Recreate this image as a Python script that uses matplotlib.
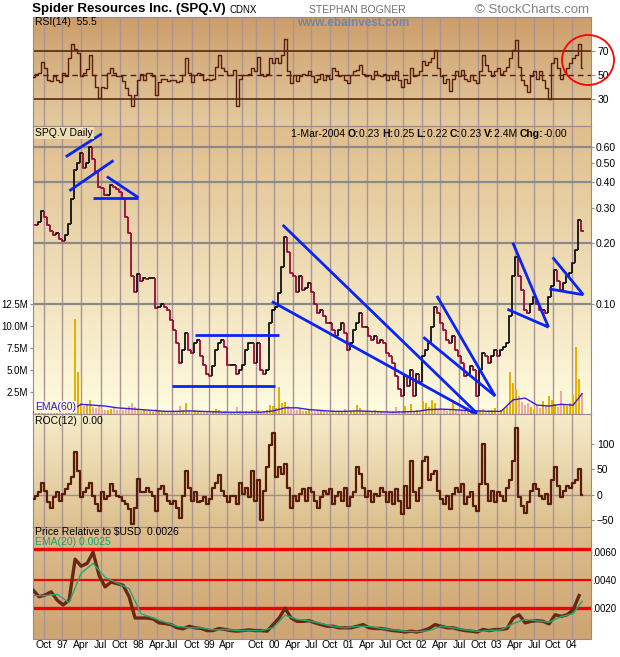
import numpy as np
import matplotlib
matplotlib.use('Agg')
import matplotlib.pyplot as plt
from matplotlib.collections import LineCollection
from matplotlib.patches import Ellipse
import matplotlib.colors as mcolors

plt.rcParams['font.family'] = ['Liberation Sans', 'DejaVu Sans']

W, H = 620, 657

# one sample about every two weeks, Aug-1996 .. 1-Mar-2004
close = [0.25, 0.245, 0.255, 0.29, 0.27, 0.245, 0.23, 0.22, 0.225, 0.21,
         0.205, 0.22, 0.25, 0.33, 0.46, 0.50, 0.56, 0.47, 0.50, 0.60,
         0.52, 0.45, 0.38, 0.375, 0.345, 0.345, 0.39, 0.38, 0.37, 0.36,
         0.33, 0.27, 0.225, 0.137, 0.115, 0.14, 0.13, 0.135, 0.133, 0.135,
         0.135, 0.095, 0.097, 0.10, 0.097, 0.093, 0.083, 0.074, 0.064, 0.051,
         0.059, 0.072, 0.059, 0.057, 0.064, 0.066, 0.055, 0.05, 0.045, 0.044,
         0.049, 0.059, 0.064, 0.066, 0.061, 0.05, 0.05, 0.05, 0.045, 0.047,
         0.05, 0.059, 0.064, 0.064, 0.051, 0.064, 0.047, 0.045, 0.047, 0.08,
         0.093, 0.097, 0.113, 0.153, 0.215, 0.18, 0.142, 0.137, 0.115, 0.137,
         0.117, 0.12, 0.127, 0.115, 0.10, 0.09, 0.093, 0.087, 0.08, 0.08,
         0.074, 0.069, 0.074, 0.08, 0.072, 0.059, 0.064, 0.074, 0.08, 0.09,
         0.077, 0.077, 0.069, 0.066, 0.069, 0.064, 0.066, 0.064, 0.057, 0.055,
         0.051, 0.044, 0.038, 0.035, 0.044, 0.039, 0.047, 0.035, 0.045, 0.041,
         0.055, 0.059, 0.064, 0.077, 0.097, 0.09, 0.08, 0.074, 0.066, 0.064,
         0.069, 0.059, 0.055, 0.051, 0.044, 0.045, 0.049, 0.047, 0.035, 0.047,
         0.057, 0.055, 0.051, 0.055, 0.059, 0.055, 0.059, 0.061, 0.064, 0.087,
         0.137, 0.17, 0.137, 0.117, 0.093, 0.09, 0.10, 0.108, 0.10, 0.093,
         0.093, 0.09, 0.108, 0.122, 0.147, 0.13, 0.117, 0.127, 0.137, 0.142,
         0.16, 0.185, 0.26, 0.23]

rsi = [48.6, 51, 52, 61, 55.5, 46, 45, 49, 46, 44,
       52, 49.5, 64, 76, 72, 68, 49, 52, 55, 67,
       50, 40, 31, 40, 39, 52, 56, 52, 49, 49,
       45, 39, 33, 24, 33, 46, 51, 46, 52, 52,
       49, 33, 44, 47, 47, 45, 46, 46, 44, 45,
       50, 64, 52, 44, 50, 52, 51, 46, 47, 46,
       47, 57, 67, 56, 53, 50, 50, 54, 24, 47,
       50, 50, 51, 56, 53, 65, 51, 49, 51, 64,
       60, 64, 60, 67, 80, 53, 43, 50, 45, 49,
       51, 50, 53, 49, 44, 47, 51, 46, 49, 47,
       56, 53, 49, 50, 46, 43, 50, 53, 54, 58,
       51, 49, 50, 47, 53, 50, 49, 51, 46, 50,
       47, 53, 46, 40, 47, 43, 56, 49, 50, 53,
       62, 58, 61, 64, 71, 56, 49, 43, 47, 37,
       47, 53, 49, 54, 47, 45, 50, 46, 43, 53,
       67, 58, 53, 49, 53, 56, 51, 53, 57, 64,
       71, 79, 57, 46, 42, 36, 49, 53, 47, 53,
       46, 39, 30, 60, 64, 56, 47, 51, 56, 60,
       64, 67, 76, 55.5]

roc = [-9, -2, 5, 24, 8, -15, -25, -5, 5, -12,
       1, 11, 21, 34, 84, 47, -5, 5, 14, 24,
       -2, -18, -32, 5, -9, -2, 21, 8, -2, -5,
       -12, -18, -28, -58, -25, 31, 5, 5, 14, 5,
       -2, -32, 11, 18, 1, -12, -18, -12, -25, -45,
       -2, 47, 14, -12, 5, -15, -12, -5, -18, -9,
       14, 24, 38, 8, -2, -15, -2, -2, -18, 24,
       1, 14, -5, 47, -12, 28, -50, 8, 54, 97,
       120, 34, 54, 41, 61, 14, -25, -2, -12, 1,
       11, -12, 14, 5, -12, -25, -5, 8, 1, 11,
       -18, -2, 5, -12, 14, -22, -5, 5, 54, 41,
       14, -5, 8, -15, 1, -2, 14, 5, -15, 5,
       -18, 11, -12, -38, 18, -25, 67, 5, -12, 14,
       67, 74, 28, 41, 47, 8, -9, -18, -2, -28,
       1, 14, 5, 21, -18, -5, 5, -22, -32, 21,
       100, 21, -12, 8, -15, 5, -2, -12, 14, 28,
       67, 130, -5, -22, -35, -15, 8, 21, 11, -2,
       -9, 1, -18, 28, 54, 18, -5, 8, 18, 14,
       24, 28, 51, 0]

volume = [0.3, 0.2, 0.4, 0.5, 0.3, 0.2, 0.3, 0.2, 0.4, 0.3,
          0.2, 0.3, 0.6, 1.4, 10.7, 4.7, 1.2, 0.9, 1.1, 1.6,
          0.8, 0.7, 0.9, 0.6, 0.5, 0.4, 0.6, 0.7, 0.5, 0.4,
          0.5, 0.6, 0.9, 1.3, 0.8, 0.5, 0.3, 0.4, 0.3, 0.3,
          0.2, 0.6, 0.4, 0.3, 0.2, 0.3, 0.3, 0.2, 0.3, 0.9,
          0.4, 1.2, 0.4, 0.3, 0.4, 0.3, 0.2, 0.3, 0.2, 0.3,
          0.3, 0.6, 0.4, 0.2, 0.3, 0.1, 0.1, 0.2, 0.8, 0.3,
          0.2, 0.3, 0.2, 0.4, 0.3, 0.5, 0.2, 0.3, 0.4, 1.0,
          0.9, 0.7, 3.1, 1.2, 1.4, 0.9, 0.6, 0.5, 0.4, 0.6,
          0.3, 0.3, 0.5, 0.2, 0.3, 0.3, 0.4, 0.3, 0.2, 0.3,
          0.5, 0.3, 0.2, 0.3, 0.6, 0.2, 0.3, 0.4, 1.0, 0.7,
          0.5, 0.3, 0.3, 0.2, 0.5, 0.2, 0.3, 0.2, 0.4, 0.2,
          0.3, 0.8, 0.3, 0.2, 0.9, 0.2, 1.1, 0.3, 0.5, 0.4,
          1.5, 1.2, 0.8, 1.6, 1.2, 0.6, 0.5, 0.4, 0.3, 0.6,
          1.6, 0.5, 0.3, 0.4, 0.3, 0.8, 0.3, 0.2, 0.5, 0.4,
          0.6, 0.3, 0.5, 0.4, 0.7, 0.3, 0.4, 0.6, 0.8, 4.8,
          3.5, 2.8, 2.0, 1.4, 1.0, 1.3, 0.8, 0.6, 0.9, 0.7,
          1.5, 0.9, 2.0, 1.6, 1.1, 0.8, 2.6, 1.0, 0.9, 1.3,
          2.1, 7.6, 4.0, 2.4]

# every 4th sample plus the last one
vol_ema = [0.2, 0.2, 0.2, 0.25, 1.1, 1.0, 0.9, 0.7, 0.6, 0.5,
           0.4, 0.3, 0.3, 0.35, 0.3, 0.25, 0.2, 0.2, 0.2, 0.2,
           0.35, 0.7, 0.7, 0.5, 0.4, 0.3, 0.3, 0.35, 0.3, 0.25,
           0.2, 0.25, 0.3, 0.5, 0.55, 0.5, 0.4, 0.35, 0.3, 0.3,
           1.6, 1.8, 1.0, 0.9, 1.1, 1.0, 2.3]

# every 2nd sample
pr = [.00329, .00282, .00294, .00317, .00258, .00223, .00258, .0055, .0050, .0052,
      .0060, .00434, .00352, .00387, .00375, .00364, .00282, .0013, .0013, .0013,
      .00123, .00095, .0009, .00083, .0006, .00053, .00071, .0006, .00055, .0004,
      .0004, .00055, .00048, .0004, .00036, .0004, .00045, .0004, .0004, .00036,
      .00083, .0013, .0020, .0013, .00106, .00106, .00111, .00095, .00083, .00071,
      .00071, .0006, .0006, .0006, .00071, .00083, .0006, .00055, .00055, .00048,
      .0004, .00036, .0003, .00036, .0003, .0004, .00055, .00083, .00071, .0006,
      .0006, .00048, .0004, .00036, .0003, .00048, .0004, .00048, .00048, .00055,
      .0013, .00153, .00095, .00106, .00111, .00106, .00088, .00153, .00142, .00153,
      .00188, .0029]

# every 4th sample plus the last one
pr_ema = [.0029, .0029, .0030, .0024, .0045, .0052, .0042, .0038, .0034, .0016,
          .0013, .0010, .0007, .0006, .0006, .00045, .00048, .0004, .0004, .0004,
          .0006, .0015, .0012, .0011, .0009, .0007, .0006, .0007, .0007, .00055,
          .00045, .00035, .00032, .0004, .0007, .0006, .00045, .00035, .0004, .00045,
          .0009, .0012, .0011, .0010, .0014, .0016, .0025]

tick_labels = ['Oct', '97', 'Apr', 'Jul', 'Oct', '98', 'Apr', 'Jul', 'Oct', '99',
               'Apr', '', 'Oct', '00', 'Apr', 'Jul', 'Oct', '01', 'Apr', 'Jul',
               'Oct', '02', 'Apr', 'Jul', 'Oct', '03', 'Apr', 'Jul', 'Oct', '04']
tick_pos = [3.5, 9.77, 16.1, 22.57, 29.0, 35.1, 41.23, 46.2, 52.8, 58.7,
            64.7, 69.7, 74.33, 80.43, 86.57, 92.67, 99.0, 105.1, 111.23, 117.57,
            123.43, 129.57, 135.67, 142.1, 148.43, 154.57, 160.67, 167.0, 173.23, 179.57]

# hand-drawn trendlines: (sample, price) pairs
trend_lines = [[(10.9, 0.535), (22.9, 0.696)],
               [(12.1, 0.363), (26.8, 0.513)],
               [(20.1, 0.336), (35.1, 0.336)],
               [(24.6, 0.427), (35.1, 0.336)],
               [(54.0, 0.070), (81.8, 0.070)],
               [(46.2, 0.039), (80.7, 0.039)],
               [(83.2, 0.246), (147.9, 0.0288)],
               [(79.6, 0.1027), (147.9, 0.0283)],
               [(130.1, 0.0684), (154.0, 0.035)],
               [(134.6, 0.1095), (154.0, 0.035)],
               [(159.9, 0.201), (171.8, 0.0767)],
               [(158.1, 0.0941), (171.8, 0.0767)],
               [(173.2, 0.170), (183.4, 0.111)],
               [(172.1, 0.1186), (183.4, 0.111)]]

price_grid = [0.1, 0.2, 0.4, 0.6]
pr_lines = [0.0062, 0.0040, 0.0020]

n = len(close)
idx = np.arange(n)
up = np.r_[True, np.diff(close) >= 0]

grid_c = '#AA9494'
fs = 7.5
fy = 7

fig = plt.figure(figsize=(W / 100, H / 100), dpi=100)


def px_rect(top, bottom, left=32.5, right=590.5):
    return [left / W, 1 - bottom / H, (right - left) / W, (bottom - top) / H]


def gradient(ax, c_top, c_bot):
    a = np.array(mcolors.to_rgb(c_top))
    b = np.array(mcolors.to_rgb(c_bot))
    t = np.linspace(0, 1, 200)[:, None]
    img = (a * (1 - t) + b * t)[:, None, :]
    ax.imshow(img, extent=[0, 1, 0, 1], transform=ax.transAxes,
              aspect='auto', zorder=0, interpolation='bilinear')


def base(ax):
    ax.set_xlim(-0.2, 185.8)
    ax.set_xticks(tick_pos)
    ax.set_xticklabels([])
    ax.tick_params(axis='x', length=0)
    for x in tick_pos:
        ax.axvline(x, color=grid_c, lw=1.0, zorder=1)
    for s in ax.spines.values():
        s.set_color('#9A8A86')
        s.set_linewidth(0.8)


def ftext(x, y, s, **kw):
    return fig.text(x / W, 1 - y / H, s, va='center', **kw)


# --- RSI panel
ax_r = fig.add_axes(px_rect(16.5, 126))
gradient(ax_r, '#CC9D6A', '#E4CB9F')
base(ax_r)
ax_r.plot(idx, rsi, color='#5A1E0C', lw=1.0, drawstyle='steps-mid', zorder=3)
for lv in (30, 70):
    ax_r.axhline(lv, color='#4A1E0A', lw=1.1, zorder=2)
ax_r.axhline(50, color='#4A1E0A', lw=1.0, ls=(0, (4, 3)), zorder=2)
ax_r.set_ylim(7.5, 98.75)
ax_r.yaxis.tick_right()
ax_r.set_yticks([30, 50, 70])
ax_r.tick_params(axis='y', labelsize=fy + 0.5, length=3, pad=2, color='#9A8A86')

# --- price + volume panel
ax_v = fig.add_axes(px_rect(126, 414))
gradient(ax_v, '#DFBE8C', '#FFFCE0')
base(ax_v)
vcol = np.where(up, '#E8B000', '#F5A6A0')
ax_v.bar(idx, volume, width=0.6, color=vcol, zorder=2)
ax_v.plot(np.r_[np.arange(0, n, 4), n - 1], vol_ema, color='#3A1ED8', lw=1.0, zorder=3)
ax_v.set_ylim(0, 32.6)
ax_v.set_yticks([2.5, 5.0, 7.5, 10.0, 12.5])
ax_v.set_yticklabels(['2.5M', '5.0M', '7.5M', '10.0M', '12.5M'])
ax_v.tick_params(axis='y', labelsize=fy, length=2.5, pad=0.5, color='#9A8A86')

ax_p = ax_v.twinx()
ax_p.set_zorder(ax_v.get_zorder() + 1)
ax_p.patch.set_visible(False)
ax_p.set_yscale('log')
ax_p.set_ylim(0.0285, 0.76)
ax_p.set_xlim(-0.2, 185.8)
for s in ax_p.spines.values():
    s.set_visible(False)
for lv in price_grid:
    ax_p.axhline(lv, color='#8A8A8A', lw=1.6, zorder=1)
segs, cols = [], []
for i in range(1, n):
    segs.append([(i - 0.5, close[i - 1]), (i - 0.5, close[i]), (i + 0.5, close[i])])
    cols.append('#111111' if close[i] >= close[i - 1] else '#9A0A38')
ax_p.add_collection(LineCollection(segs, colors=cols, linewidths=1.3, zorder=3))
for ln in trend_lines:
    xs, ys = zip(*ln)
    ax_p.plot(xs, ys, color='#0A24F5', lw=2.0, zorder=4, solid_capstyle='butt')
ax_p.set_yticks([0.1, 0.2, 0.3, 0.4, 0.5, 0.6])
ax_p.set_yticklabels(['0.10', '0.20', '0.30', '0.40', '0.50', '0.60'])
ax_p.yaxis.set_minor_locator(matplotlib.ticker.NullLocator())
ax_p.tick_params(axis='y', labelsize=fy + 0.5, length=2.5, pad=1, color='#9A8A86')

# --- ROC panel
ax_c = fig.add_axes(px_rect(414, 527))
gradient(ax_c, '#F6ECC9', '#DCC08E')
base(ax_c)
ax_c.axhline(0, color='#A08C8C', lw=1.0, zorder=2)
ax_c.plot(idx, roc, color='#5A1C08', lw=1.6, drawstyle='steps-mid', zorder=3)
ax_c.set_ylim(-63, 158)
ax_c.yaxis.tick_right()
ax_c.set_yticks([-50, 0, 50, 100])
ax_c.tick_params(axis='y', labelsize=fy + 0.5, length=2.5, pad=2, color='#9A8A86')

# --- price relative panel
ax_q = fig.add_axes(px_rect(527, 639))
gradient(ax_q, '#DDBE8D', '#CDA472')
base(ax_q)
for lv, lw in zip(pr_lines, (2.4, 1.6, 2.4)):
    ax_q.axhline(lv, color='#F00000', lw=lw, zorder=2)
ax_q.plot(np.arange(0, n, 2), pr, color='#6A2810', lw=2.4, zorder=3)
ax_q.plot(np.r_[np.arange(0, n, 4), n - 1], pr_ema, color='#1FA87A', lw=1.0, zorder=4)
ax_q.set_ylim(-0.0002, 0.0078)
ax_q.yaxis.tick_right()
ax_q.set_yticks([0.002, 0.004, 0.006])
ax_q.set_yticklabels(['.0020', '.0040', '.0060'])
ax_q.tick_params(axis='y', labelsize=fy, length=1, pad=0.5, color='#9A8A86')
ax_q.set_xticklabels(tick_labels, fontsize=fs)
ax_q.tick_params(axis='x', pad=1)

# --- texts
renderer = fig.canvas.get_renderer()
title = ftext(32, 9, 'Spider Resources Inc. (SPQ.V)', fontsize=9.6, fontweight='bold')
tx = 32 + title.get_window_extent(renderer).width + 4
ftext(tx, 10, 'CDNX', fontsize=7)
ftext(309, 10, 'STEPHAN BOGNER', fontsize=7.5, color='#707070')
ftext(589, 10, '\u00a9 StockCharts.com', fontsize=9.5, color='#808080', ha='right')
ftext(297, 23, 'www.ebainvest.com', fontsize=8.5, fontweight='bold', color='#78849A')
ftext(35, 22, 'RSI(14)  55.5', fontsize=fs)
ftext(35, 133, 'SPQ.V Daily', fontsize=fs,
      bbox=dict(facecolor='#EEDCB6', edgecolor='none', pad=1))
ftext(35, 407, 'EMA(60)', fontsize=fs, color='#2A1ED0',
      bbox=dict(facecolor='#FFF8DC', edgecolor='none', pad=0.5))
ftext(35, 421, 'ROC(12)  0.00', fontsize=fs)
ftext(35, 532, 'Price Relative to $USD  0.0026', fontsize=fs)
ftext(35, 542, 'EMA(20) 0.0025', fontsize=fs, color='#14A070')

parts = [('1-Mar-2004 ', 'normal'), ('O:', 'bold'), ('0.23 ', 'normal'),
         ('H:', 'bold'), ('0.25 ', 'normal'), ('L:', 'bold'), ('0.22 ', 'normal'),
         ('C:', 'bold'), ('0.23 ', 'normal'), ('V:', 'bold'), ('2.4M ', 'normal'),
         ('Chg:', 'bold'), ('-0.00', 'normal')]
x = 291.0
for s, wgt in parts:
    t = ftext(x, 134, s, fontsize=fs, fontweight=wgt)
    x += t.get_window_extent(renderer).width

fig.add_artist(Ellipse((588 / W, 1 - 60 / H), 52 / W, 50 / H, transform=fig.transFigure,
                       fill=False, edgecolor='#FF0000', lw=1.3))

fig.savefig('out.png', dpi=100)
